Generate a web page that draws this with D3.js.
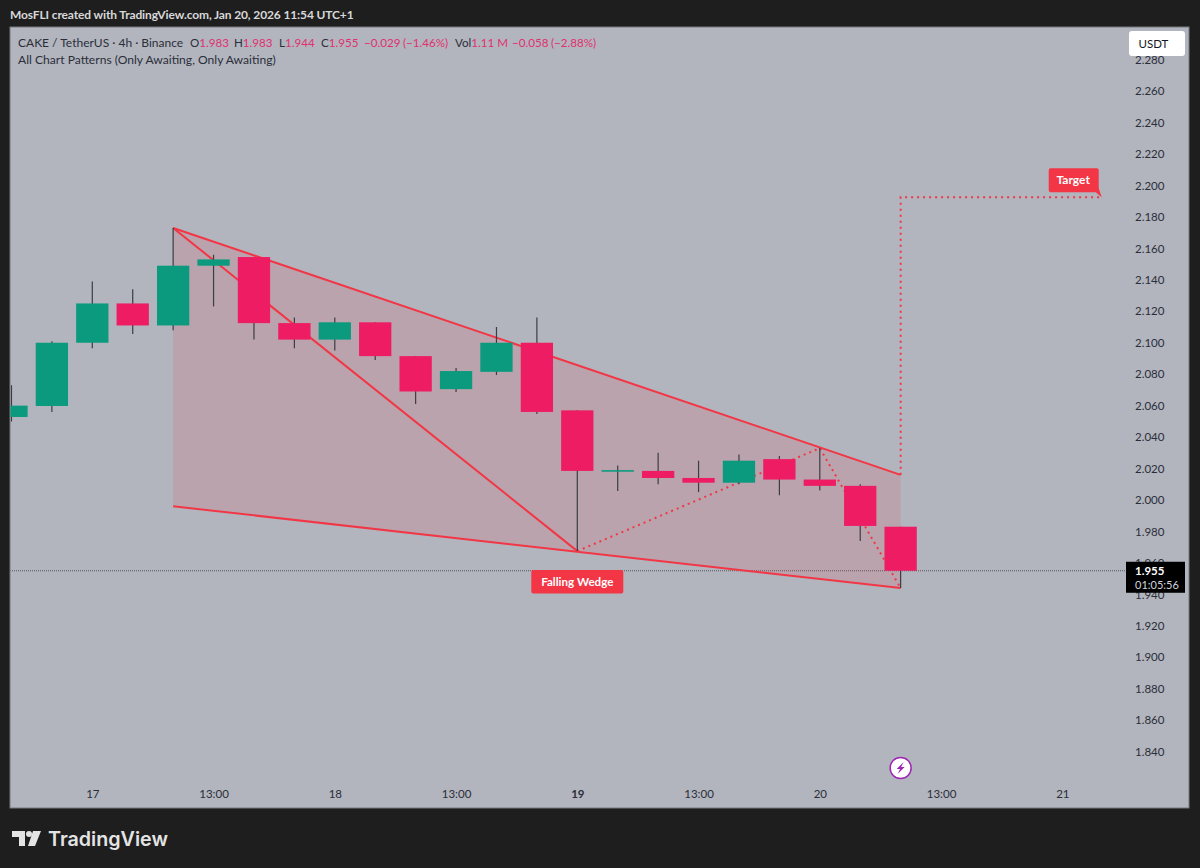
<!DOCTYPE html>
<html lang="en">
<head>
<meta charset="UTF-8">
<title>CAKE / TetherUS 4h</title>
<script src="https://d3js.org/d3.v7.min.js"></script>
<style>
  html, body { margin: 0; padding: 0; background: #1e1e1e; }
  svg { display: block; }
  text { font-family: Lato, sans-serif; }
</style>
</head>
<body>
<div id="chart"></div>
<script>
// candles (times are the local UTC+1 labels)
var times = ["2026-01-16T17:00","2026-01-16T21:00","2026-01-17T01:00","2026-01-17T05:00","2026-01-17T09:00","2026-01-17T13:00",
  "2026-01-17T17:00","2026-01-17T21:00","2026-01-18T01:00","2026-01-18T05:00","2026-01-18T09:00","2026-01-18T13:00",
  "2026-01-18T17:00","2026-01-18T21:00","2026-01-19T01:00","2026-01-19T05:00","2026-01-19T09:00","2026-01-19T13:00",
  "2026-01-19T17:00","2026-01-19T21:00","2026-01-20T01:00","2026-01-20T05:00","2026-01-20T09:00"];
var opens  = [2.0528,2.0598,2.100,2.125,2.111,2.149,2.1545,2.1125,2.102,2.113,2.0915,2.0705,2.0815,2.100,2.057,2.018,2.0185,2.014,2.011,2.026,2.013,2.009,1.983];
var highs  = [2.073,2.101,2.139,2.134,2.173,2.156,2.1545,2.116,2.116,2.113,2.0915,2.084,2.110,2.116,2.057,2.022,2.030,2.025,2.029,2.028,2.033,2.010,1.983];
var lows   = [2.050,2.056,2.0965,2.1055,2.108,2.123,2.102,2.0965,2.095,2.089,2.061,2.0687,2.0795,2.0547,1.9675,2.0057,2.010,2.005,2.010,2.003,2.006,1.974,1.944];
var closes = [2.060,2.100,2.125,2.111,2.149,2.153,2.1125,2.102,2.113,2.0915,2.069,2.082,2.100,2.056,2.0185,2.019,2.014,2.011,2.025,2.013,2.009,1.9835,1.955];

// pattern points
var wedgeTimes  = ["2026-01-17T09:00","2026-01-20T09:00","2026-01-20T09:00","2026-01-17T09:00"];
var wedgePrices = [2.173,2.016,1.944,1.996];
var legTimes    = ["2026-01-17T09:00","2026-01-19T01:00"];
var legPrices   = [2.173,1.9675];
var dotTimes    = ["2026-01-19T01:00","2026-01-20T01:00","2026-01-20T09:00"];
var dotPrices   = [1.9675,2.033,1.944];
var targetTimes  = ["2026-01-20T09:00","2026-01-20T09:00","2026-01-21T05:00"];
var targetPrices = [2.016,2.1925,2.1925];

// axes
var priceTicks = [2.28,2.26,2.24,2.22,2.20,2.18,2.16,2.14,2.12,2.10,2.08,2.06,2.04,2.02,2.00,1.98,1.96,1.94,1.92,1.90,1.88,1.86,1.84];
var timeTicks  = ["2026-01-17T01:00","2026-01-17T13:00","2026-01-18T01:00","2026-01-18T13:00","2026-01-19T01:00","2026-01-19T13:00","2026-01-20T01:00","2026-01-20T13:00","2026-01-21T01:00"];
var timeLabels = ["17","13:00","18","13:00","19","13:00","20","13:00","21"];
var lastPrice = 1.955;

var RED = "#f23645", CANDLE_RED = "#ee1c62", CANDLE_GREEN = "#0b9a7e", WICK = "#3c3c44";
var INK = "#2a2e39", PINK = "#e0306e";
var parseT = function(s) { return new Date(s + ":00Z"); };

var svg = d3.select("#chart").append("svg").attr("width", 1200).attr("height", 868);

// panel
svg.append("rect").attr("x", 10).attr("y", 27).attr("width", 1179).attr("height", 781)
  .attr("fill", "#b2b5be").attr("stroke", "#77787d").attr("stroke-width", 1);
svg.append("defs").append("clipPath").attr("id", "plot").append("rect")
  .attr("x", 10.5).attr("y", 27.5).attr("width", 1178).attr("height", 780);

var x = d3.scaleUtc().domain([parseT("2026-01-17T01:00"), parseT("2026-01-21T01:00")]).range([92.3, 1062.3]);
var y = d3.scaleLinear().domain([2.2, 1.84]).range([185.5, 751.6]);

var pts = function(ts, ps) { return ts.map(function(t, i) { return [x(parseT(t)), y(ps[i])]; }); };
var line = d3.line();

var g = svg.append("g").attr("clip-path", "url(#plot)");

// last price line goes under everything
g.append("line").attr("x1", 10).attr("x2", 1126).attr("y1", y(lastPrice)).attr("y2", y(lastPrice))
  .attr("stroke", "#55565c").attr("stroke-width", 1).attr("stroke-dasharray", "1 1");

// wedge
g.append("path").attr("d", line(pts(wedgeTimes, wedgePrices)) + "Z").attr("fill", RED).attr("fill-opacity", 0.14);
var wp = pts(wedgeTimes, wedgePrices);
[[wp[0], wp[1]], [wp[3], wp[2]], pts(legTimes, legPrices)].forEach(function(l) {
  g.append("path").attr("d", line(l)).attr("fill", "none").attr("stroke", RED).attr("stroke-width", 2);
});
[pts(dotTimes, dotPrices), pts(targetTimes, targetPrices)].forEach(function(l) {
  g.append("path").attr("d", line(l)).attr("fill", "none").attr("stroke", RED)
    .attr("stroke-width", 2).attr("stroke-dasharray", "2 4");
});

// candles
var barW = 32.3;
var candles = g.append("g").selectAll("g").data(times).join("g");
candles.append("line")
  .attr("x1", function(d) { return x(parseT(d)); }).attr("x2", function(d) { return x(parseT(d)); })
  .attr("y1", function(d, i) { return y(highs[i]); }).attr("y2", function(d, i) { return y(lows[i]); })
  .attr("stroke", WICK).attr("stroke-width", 1.2);
candles.append("rect")
  .attr("x", function(d) { return x(parseT(d)) - barW / 2; }).attr("width", barW)
  .attr("y", function(d, i) { return y(Math.max(opens[i], closes[i])); })
  .attr("height", function(d, i) { return Math.abs(y(opens[i]) - y(closes[i])); })
  .attr("fill", function(d, i) { return closes[i] >= opens[i] ? CANDLE_GREEN : CANDLE_RED; });

// price axis, labels are clipped at the top by the currency button
var priceAxis = d3.axisRight(y).tickValues(priceTicks).tickSize(0).tickPadding(0).tickFormat(d3.format(".3f"));
var pa = svg.append("g").attr("transform", "translate(1135,0)").call(priceAxis);
pa.select(".domain").remove();
pa.selectAll("text").attr("fill", INK).attr("font-size", 11.5).style("font-family", "Lato, sans-serif");

// time axis
var timeAxis = d3.axisBottom(x).tickValues(timeTicks.map(parseT)).tickSize(0).tickPadding(0)
  .tickFormat(function(d, i) { return timeLabels[i]; });
var ta = svg.append("g").attr("transform", "translate(0,790)").call(timeAxis);
ta.select(".domain").remove();
ta.selectAll("text").attr("fill", INK).attr("font-size", 11.5).style("font-family", "Lato, sans-serif")
  .attr("font-weight", function(d, i) { return timeLabels[i] === "19" ? 700 : 400; });

// currency button
svg.append("rect").attr("x", 1129).attr("y", 31).attr("width", 56).attr("height", 25).attr("rx", 3).attr("fill", "#fff");
svg.append("text").attr("x", 1138.5).attr("y", 47.5).attr("font-size", 11.5).attr("fill", "#131722").text("USDT");

// last price box
var ly = y(lastPrice);
svg.append("rect").attr("x", 1126).attr("y", ly - 9).attr("width", 59).attr("height", 31).attr("fill", "#000");
svg.append("text").attr("x", 1135).attr("y", ly + 4).attr("font-size", 11.5).attr("font-weight", 700).attr("fill", "#fff").text("1.955");
svg.append("text").attr("x", 1135).attr("y", ly + 18).attr("font-size", 11).attr("fill", "#d1d4dc").text("01:05:56");

// labels
var tgt = pts(targetTimes, targetPrices)[2];
svg.append("path")
  .attr("d", "M" + (tgt[0] - 52) + "," + (tgt[1] - 29) + "h46a2,2 0 0 1 2,2v18l3,9l-6,-5h-45a2,2 0 0 1 -2,-2v-20a2,2 0 0 1 2,-2z")
  .attr("fill", RED);
svg.append("text").attr("x", tgt[0] - 29.5).attr("y", tgt[1] - 13.5).attr("text-anchor", "middle")
  .attr("font-size", 12).attr("font-weight", 700).attr("fill", "#fff").text("Target");

var low = pts(legTimes, legPrices)[1];
svg.append("rect").attr("x", low[0] - 46).attr("y", low[1] + 19).attr("width", 92).attr("height", 23.5).attr("rx", 2).attr("fill", RED);
svg.append("text").attr("x", low[0]).attr("y", low[1] + 35).attr("text-anchor", "middle")
  .attr("font-size", 11.6).attr("font-weight", 700).attr("fill", "#fff").text("Falling Wedge");

// lightning marker
var mx = x(parseT("2026-01-20T09:00"));
svg.append("circle").attr("cx", mx).attr("cy", 768).attr("r", 10.5).attr("fill", "#fff").attr("stroke", "#9c27b0").attr("stroke-width", 1.5);
svg.append("path").attr("transform", "translate(" + mx + ",768)").attr("d", "M3,-6 L-4,1 L-0.5,1 L-3,6 L4,-1 L0.5,-1 Z").attr("fill", "#9c27b0");

// header and legend
svg.append("text").attr("x", 10).attr("y", 18.5).attr("font-size", 12).attr("font-weight", 700).attr("fill", "#d8d8d8")
  .style("letter-spacing", "-0.13px")
  .text("MosFLI created with TradingView.com, Jan 20, 2026 11:54 UTC+1");

var legendX = [18, 190, 234, 279, 321, 364, 403, 455, 512, 551];
var legendParts = [
  [["CAKE / TetherUS · 4h · Binance", INK]],
  [["O", INK], ["1.983", PINK]],
  [["H", INK], ["1.983", PINK]],
  [["L", INK], ["1.944", PINK]],
  [["C", INK], ["1.955", PINK]],
  [["−0.029", PINK]],
  [["(−1.46%)", PINK]],
  [["Vol", INK], ["1.11 M", PINK]],
  [["−0.058", PINK]],
  [["(−2.88%)", PINK]]
];
legendParts.forEach(function(parts, i) {
  var t = svg.append("text").attr("x", legendX[i]).attr("y", 46.5).attr("font-size", i === 0 ? 12 : 11.6);
  parts.forEach(function(p) { t.append("tspan").attr("fill", p[1]).text(p[0]); });
});
svg.append("text").attr("x", 18).attr("y", 63.5).attr("font-size", 12.1).attr("fill", INK)
  .text("All Chart Patterns (Only Awaiting, Only Awaiting)");

// TradingView logo
var logo = svg.append("g").attr("fill", "#e4e4e4");
logo.append("path").attr("d", "M12,831 H25 V846 H19 V837 H12 Z");
logo.append("circle").attr("cx", 29).attr("cy", 834).attr("r", 3);
logo.append("path").attr("d", "M33,831 H41 L35,846 H28 Z");
svg.append("text").attr("x", 48).attr("y", 845.5).attr("font-size", 19.7).attr("font-weight", 600)
  .style("font-family", "Inter, sans-serif").attr("fill", "#e4e4e4").text("TradingView");
</script>
</body>
</html>
